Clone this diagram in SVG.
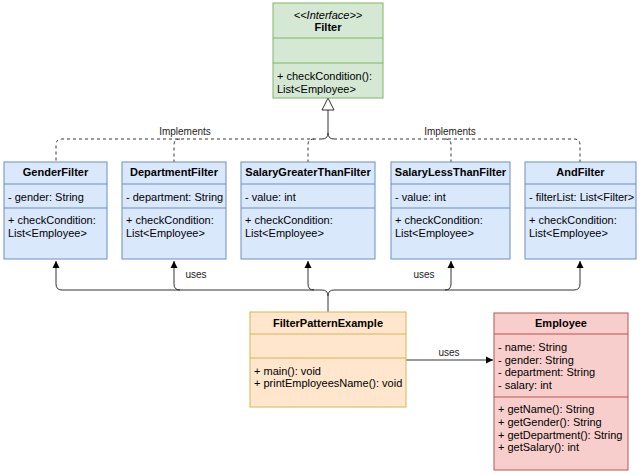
<svg xmlns="http://www.w3.org/2000/svg" width="640" height="475" viewBox="0 0 640 475">
<style>
text{font-family:"Liberation Sans",Arial,sans-serif;font-size:11px;fill:#000}
.t{font-weight:bold;text-anchor:middle}
.c{text-anchor:middle}
.lbl{font-size:10px;text-anchor:middle;fill:#222}
.blue{fill:#dae8fc;stroke:#6c8ebf;stroke-width:1}
.green{fill:#d5e8d4;stroke:#82b366;stroke-width:1}
.orange{fill:#ffe6cc;stroke:#d6b656;stroke-width:1}
.red{fill:#f8cecc;stroke:#b85450;stroke-width:1}
.dash{fill:none;stroke:#000;stroke-dasharray:3 3;stroke-width:0.8}
.solid{fill:none;stroke:#000;stroke-width:0.8}
</style>
<defs>
<marker id="arr" markerWidth="8" markerHeight="8" refX="7" refY="4" orient="auto" markerUnits="userSpaceOnUse">
<path d="M0,0.5 L7,4 L0,7.5 Z" fill="#000"/>
</marker>
</defs>
<rect width="640" height="475" fill="#fff"/>

<g id="connectors">
<path class="solid" d="M328,110 V133 Q328,139 322,139"/>
<path class="solid" d="M328,133 Q328,139 334,139"/>
<path class="dash" d="M322,139 H62 Q56,139 56,145 V162"/>
<path class="dash" d="M180,139 Q174,139 174,145 V162"/>
<path class="dash" d="M314,139 Q308,139 308,145 V162"/>
<path class="dash" d="M334,139 H574 Q580,139 580,145 V162"/>
<path class="dash" d="M445,139 Q451,139 451,145 V162"/>
<polygon points="328,98 322,110 334,110" fill="#fff" stroke="#000" stroke-width="0.8"/>
<text class="lbl" x="185" y="135">Implements</text>
<text class="lbl" x="450" y="135">Implements</text>

<path class="solid" d="M328,312 V296 Q328,290 322,290 H62 Q56,290 56,284 V261" marker-end="url(#arr)"/>
<path class="solid" d="M180,290 Q174,290 174,284 V261" marker-end="url(#arr)"/>
<path class="solid" d="M314,290 Q308,290 308,284 V261" marker-end="url(#arr)"/>
<path class="solid" d="M328,296 Q328,290 334,290 H574 Q580,290 580,284 V261" marker-end="url(#arr)"/>
<path class="solid" d="M445,290 Q451,290 451,284 V261" marker-end="url(#arr)"/>
<text class="lbl" x="196" y="278">uses</text>
<text class="lbl" x="424" y="278">uses</text>

<path class="solid" d="M406,360 H493" marker-end="url(#arr)"/>
<text class="lbl" x="449" y="356">uses</text>
</g>

<g id="Filter">
<rect class="green" x="273" y="3" width="110" height="95"/>
<line class="green" x1="273" y1="38" x2="383" y2="38"/>
<line class="green" x1="273" y1="63" x2="383" y2="63"/>
<text class="c" x="328" y="19" font-style="italic">&lt;&lt;Interface&gt;&gt;</text>
<text class="t" x="328" y="31">Filter</text>
<text x="277" y="80">+ checkCondition():</text>
<text x="277" y="93">List&lt;Employee&gt;</text>
</g>

<g id="GenderFilter">
<rect class="blue" x="4" y="162" width="103" height="97"/>
<line class="blue" x1="4" y1="184" x2="107" y2="184"/>
<line class="blue" x1="4" y1="208" x2="107" y2="208"/>
<text class="t" x="55.5" y="176">GenderFilter</text>
<text x="8" y="201">- gender: String</text>
<text x="8" y="224">+ checkCondition:</text>
<text x="8" y="237">List&lt;Employee&gt;</text>
</g>

<g id="DepartmentFilter">
<rect class="blue" x="122" y="162" width="104" height="97"/>
<line class="blue" x1="122" y1="184" x2="226" y2="184"/>
<line class="blue" x1="122" y1="208" x2="226" y2="208"/>
<text class="t" x="174" y="176">DepartmentFilter</text>
<text x="126" y="201">- department: String</text>
<text x="126" y="224">+ checkCondition:</text>
<text x="126" y="237">List&lt;Employee&gt;</text>
</g>

<g id="SalaryGreaterThanFilter">
<rect class="blue" x="241" y="162" width="134" height="97"/>
<line class="blue" x1="241" y1="184" x2="375" y2="184"/>
<line class="blue" x1="241" y1="208" x2="375" y2="208"/>
<text class="t" x="308" y="176">SalaryGreaterThanFilter</text>
<text x="245" y="201">- value: int</text>
<text x="245" y="224">+ checkCondition:</text>
<text x="245" y="237">List&lt;Employee&gt;</text>
</g>

<g id="SalaryLessThanFilter">
<rect class="blue" x="391" y="162" width="119" height="97"/>
<line class="blue" x1="391" y1="184" x2="510" y2="184"/>
<line class="blue" x1="391" y1="208" x2="510" y2="208"/>
<text class="t" x="450.5" y="176">SalaryLessThanFilter</text>
<text x="395" y="201">- value: int</text>
<text x="395" y="224">+ checkCondition:</text>
<text x="395" y="237">List&lt;Employee&gt;</text>
</g>

<g id="AndFilter">
<rect class="blue" x="525" y="162" width="111" height="97"/>
<line class="blue" x1="525" y1="184" x2="636" y2="184"/>
<line class="blue" x1="525" y1="208" x2="636" y2="208"/>
<text class="t" x="580.5" y="176">AndFilter</text>
<text x="529" y="201">- filterList: List&lt;Filter&gt;</text>
<text x="529" y="224">+ checkCondition:</text>
<text x="529" y="237">List&lt;Employee&gt;</text>
</g>

<g id="FilterPatternExample">
<rect class="orange" x="250" y="312" width="156" height="95"/>
<line class="orange" x1="250" y1="334" x2="406" y2="334"/>
<line class="orange" x1="250" y1="358" x2="406" y2="358"/>
<text class="t" x="328" y="327">FilterPatternExample</text>
<text x="254" y="375">+ main(): void</text>
<text x="254" y="387">+ printEmployeesName(): void</text>
</g>

<g id="Employee">
<rect class="red" x="494" y="313" width="134" height="157"/>
<line class="red" x1="494" y1="334" x2="628" y2="334"/>
<line class="red" x1="494" y1="397" x2="628" y2="397"/>
<text class="t" x="561" y="327">Employee</text>
<text x="498" y="351">- name: String</text>
<text x="498" y="364">- gender: String</text>
<text x="498" y="376">- department: String</text>
<text x="498" y="389">- salary: int</text>
<text x="498" y="413">+ getName(): String</text>
<text x="498" y="426">+ getGender(): String</text>
<text x="498" y="439">+ getDepartment(): String</text>
<text x="498" y="451">+ getSalary(): int</text>
</g>
</svg>
